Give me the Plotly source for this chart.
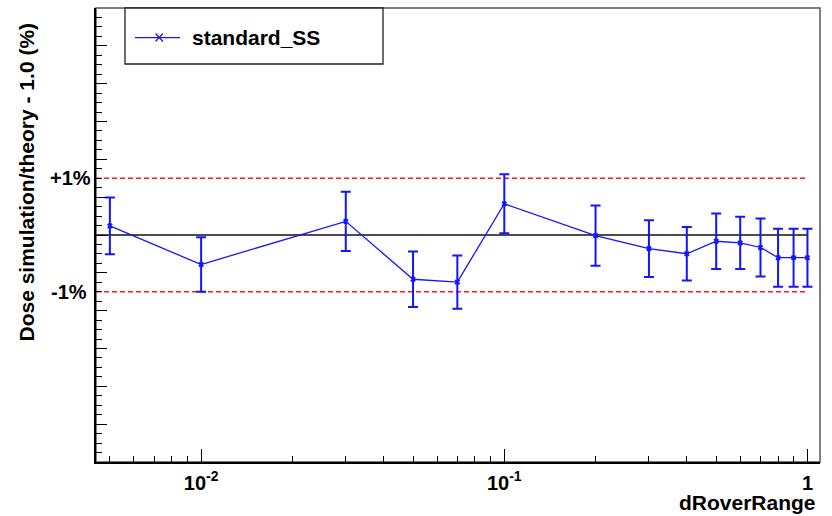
import math
import plotly.graph_objects as go

# Relative dose deviation (simulation/theory - 1, in %) versus dR/Range
d_over_range = [0.005, 0.01, 0.03, 0.05, 0.07, 0.1, 0.2, 0.3, 0.4, 0.5, 0.6, 0.7, 0.8, 0.9, 1.0]
dose_dev_pct = [0.16, -0.52, 0.24, -0.78, -0.83, 0.55, -0.01, -0.24, -0.33, -0.11, -0.14, -0.22, -0.40, -0.40, -0.40]
dose_err_pct = [0.50, 0.48, 0.52, 0.49, 0.47, 0.52, 0.53, 0.50, 0.47, 0.49, 0.46, 0.51, 0.51, 0.51, 0.51]
series_name = "standard_SS"

# Tolerance band and reference line
band_levels = [1.0, -1.0]
band_labels = ["+1%", "-1%"]
ref_level = 0.0

# Axis extents and ticks
x_lo, x_hi = 0.0045, 1.1
y_lo, y_hi = -4.0, 4.0
x_major = [0.01, 0.1, 1.0]
x_major_text = ["10<sup>-2</sup>", "10<sup>-1</sup>", "1"]
x_minor = [m * 10.0 ** e for e in (-3, -2, -1) for m in range(2, 10)]
x_minor = [v for v in x_minor if x_lo <= v <= x_hi]

W, H = 832, 516
PL, PR, PT, PB = 96, 820, 8, 462

BLUE = "#1414ff"
FONT = "Liberation Sans"


def px(X):
    return (X - PL) / (PR - PL)


def py(Y):
    return (PB - Y) / (PB - PT)


fig = go.Figure()

# zero reference and ±1% band lines
fig.add_trace(go.Scatter(x=[x_lo, 1.0], y=[ref_level, ref_level], mode="lines",
                         line=dict(color="#111111", width=1.5), hoverinfo="skip",
                         showlegend=False))
for lvl in band_levels:
    fig.add_trace(go.Scatter(x=[x_lo, 1.0], y=[lvl, lvl], mode="lines",
                             line=dict(color="#ff1a1a", width=1.6, dash="5px,3px"),
                             hoverinfo="skip", showlegend=False))

# data series
fig.add_trace(go.Scatter(
    x=d_over_range, y=dose_dev_pct, mode="lines+markers", name=series_name,
    line=dict(color=BLUE, width=1.3),
    marker=dict(symbol="x", size=5, color=BLUE),
    error_y=dict(type="data", array=dose_err_pct, visible=True,
                 color=BLUE, thickness=2, width=5),
    showlegend=False,
))

shapes = [
    # frame
    dict(type="rect", xref="paper", yref="paper", x0=0, x1=1, y0=0, y1=1,
         line=dict(color="#555555", width=1.5), layer="below"),
    # legend box
    dict(type="rect", xref="paper", yref="paper", x0=px(125), x1=px(383),
         y0=py(64), y1=py(8), line=dict(color="#222222", width=1.3),
         fillcolor="white"),
    # legend sample line
    dict(type="line", xref="paper", yref="paper", x0=px(135), x1=px(180),
         y0=py(37.7), y1=py(37.7), line=dict(color=BLUE, width=1.3)),
    dict(type="line", xref="paper", yref="paper", x0=px(155.5), x1=px(163),
         y0=py(33.5), y1=py(41.5), line=dict(color=BLUE, width=1.2)),
    dict(type="line", xref="paper", yref="paper", x0=px(155.5), x1=px(163),
         y0=py(41.5), y1=py(33.5), line=dict(color=BLUE, width=1.2)),
]

bold = dict(family=FONT, color="black", weight="bold")
annotations = [
    dict(text=series_name, xref="paper", yref="paper", x=px(190), y=py(37.7),
         xanchor="left", yanchor="middle", showarrow=False,
         font=dict(size=21, **bold)),
    dict(text="Dose simulation/theory - 1.0 (%)", xref="paper", yref="paper",
         x=px(26), y=py(21), xanchor="center", yanchor="top", textangle=-90,
         showarrow=False, font=dict(size=21, **bold)),
    dict(text="dRoverRange", xref="paper", yref="paper", x=px(818), y=py(503),
         xanchor="right", yanchor="middle", showarrow=False,
         font=dict(size=21, **bold)),
]
for lvl, lab, right in zip(band_levels, band_labels, [92.5, 89]):
    annotations.append(dict(text=lab, xref="paper", yref="y", x=px(right), y=lvl,
                            xanchor="right", yanchor="middle", showarrow=False,
                            font=dict(size=20, **bold)))

fig.update_layout(
    width=W, height=H,
    margin=dict(l=PL, r=W - PR, t=PT, b=H - PB),
    paper_bgcolor="white", plot_bgcolor="white",
    shapes=shapes, annotations=annotations,
    xaxis=dict(type="log", range=[math.log10(x_lo), math.log10(x_hi)],
               showgrid=False, zeroline=False, showline=True,
               linecolor="black", linewidth=1.5,
               ticks="inside", ticklen=13, tickwidth=1.2, tickcolor="black",
               tickvals=x_major, ticktext=x_major_text,
               tickfont=dict(size=20, **bold), ticklabelstandoff=2,
               minor=dict(tickvals=x_minor, ticks="inside", ticklen=6,
                          tickwidth=1.2, tickcolor="black", showgrid=False)),
    yaxis=dict(range=[y_lo, y_hi], showgrid=False, zeroline=False,
               showline=True, linecolor="black", linewidth=1.5,
               ticks="inside", ticklen=11, tickwidth=1.2, tickcolor="black",
               tick0=0, dtick=2.0 / 3.0, showticklabels=False,
               minor=dict(ticks="inside", ticklen=6, tickwidth=1.2,
                          tickcolor="black", tick0=0, dtick=1.0 / 6.0,
                          showgrid=False)),
)

fig.write_html("out.html")
